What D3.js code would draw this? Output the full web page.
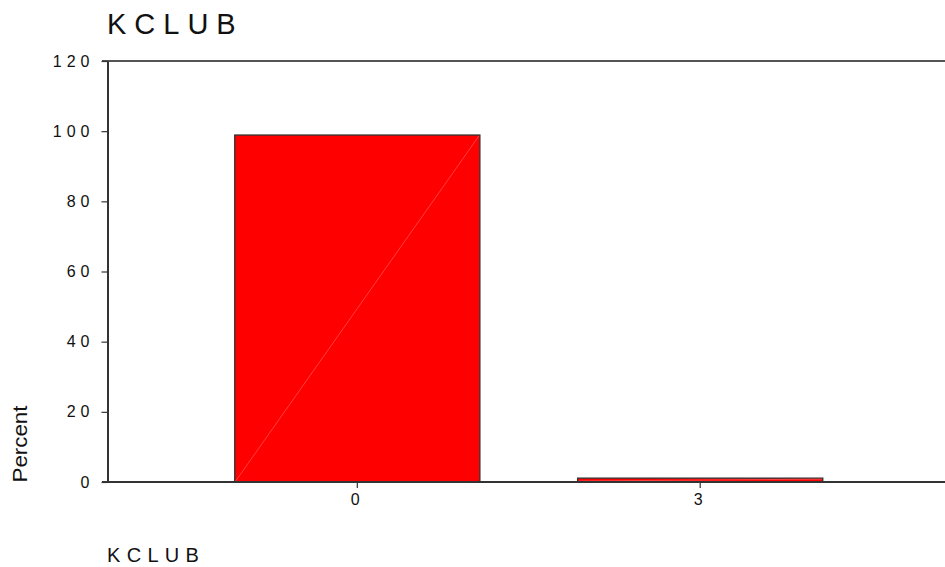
<!DOCTYPE html>
<html>
<head>
<meta charset="utf-8">
<script src="https://cdn.jsdelivr.net/npm/d3@7"></script>
<style>
  html, body { margin: 0; padding: 0; background: #fff; }
  svg { display: block; font-family: "Liberation Sans", Arial, sans-serif; }
</style>
</head>
<body>
<svg id="chart" width="945" height="567"></svg>
<script>
const categories = ["0", "3"];
const percents = [98.9, 1.1];
const yTicks = [0, 20, 40, 60, 80, 100, 120];
const chartTitle = "KCLUB";
const xTitle = "KCLUB";
const yTitle = "Percent";

(function () {
const svg = d3.select("#chart");
const plotLeft = 107.5, plotTop = 61, plotBottom = 482, plotRight = 950;

const y = d3.scaleLinear().domain([0, 120]).range([plotBottom, plotTop]);
const x = d3.scaleBand().domain(categories).range([plotLeft, plotRight])
  .paddingInner(0.285).paddingOuter(0.371);

// Title
svg.append("text").attr("x", 107).attr("y", 34)
  .attr("font-size", 29).attr("letter-spacing", 8).attr("fill", "#111")
  .text(chartTitle);

// Bars
const data = categories.map((c, i) => ({ c, v: percents[i] }));
svg.selectAll("rect.bar").data(data).enter().append("rect")
  .attr("class", "bar")
  .attr("x", d => x(d.c)).attr("width", x.bandwidth())
  .attr("y", d => y(d.v)).attr("height", d => y(0) - y(d.v))
  .attr("fill", "#ff0000").attr("stroke", "#333").attr("stroke-width", 1.3);
svg.selectAll("line.diag").data(data).enter().append("line")
  .attr("x1", d => x(d.c) + 1).attr("y1", y(0) - 1)
  .attr("x2", d => x(d.c) + x.bandwidth() - 1).attr("y2", d => y(d.v) + 1)
  .attr("stroke", "#ff6a6a").attr("stroke-width", 0.6);

// Top frame line
svg.append("line").attr("x1", 102).attr("x2", 945).attr("y1", y(120)).attr("y2", y(120))
  .attr("stroke", "#555").attr("stroke-width", 2);

// Y axis
const yAxis = svg.append("g").attr("transform", `translate(${plotLeft},0)`)
  .call(d3.axisLeft(y).tickValues(yTicks).tickSize(6).tickSizeOuter(0).tickPadding(7));
yAxis.select(".domain").attr("stroke", "#333").attr("stroke-width", 2);
yAxis.selectAll(".tick line").attr("stroke", "#333").attr("stroke-width", 1.2);
yAxis.selectAll(".tick text").attr("font-size", 16).attr("letter-spacing", 5)
  .attr("fill", "#111").attr("font-family", "Liberation Sans, Arial, sans-serif");

// X axis
const xAxis = svg.append("g").attr("transform", `translate(0,${plotBottom})`)
  .call(d3.axisBottom(x).tickSize(6).tickSizeOuter(0).tickPadding(6));
xAxis.select(".domain").remove();
xAxis.selectAll(".tick line").attr("stroke", "#333").attr("stroke-width", 1.2);
xAxis.selectAll(".tick text").attr("font-size", 16).attr("fill", "#111")
  .attr("font-family", "Liberation Sans, Arial, sans-serif").attr("dx", -2);
svg.append("line").attr("x1", 102).attr("x2", 945).attr("y1", plotBottom).attr("y2", plotBottom)
  .attr("stroke", "#333").attr("stroke-width", 2);

// Y title
svg.append("text").attr("transform", "translate(27,444) rotate(-90)")
  .attr("text-anchor", "middle").attr("font-size", 20).attr("fill", "#111")
  .attr("textLength", 77).attr("lengthAdjust", "spacingAndGlyphs")
  .text(yTitle);

// X title
svg.append("text").attr("x", 107).attr("y", 562)
  .attr("font-size", 20).attr("letter-spacing", 6.3).attr("fill", "#111")
  .text(xTitle);
})();
</script>
</body>
</html>
